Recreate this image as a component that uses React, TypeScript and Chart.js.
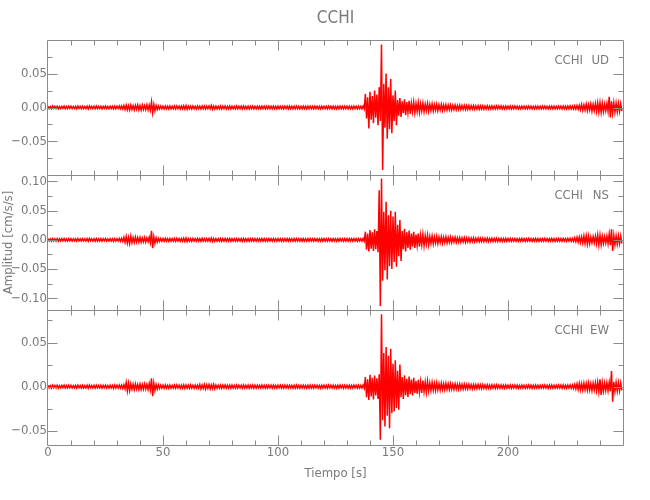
import React, { useEffect, useRef } from "react";
import { Chart, registerables } from "chart.js";

Chart.register(...registerables);

// ---------------- data ----------------
const station = "CCHI";
const componentNames = ["UD", "NS", "EW"];
const chartTitle = "CCHI";
const xAxisTitle = "Tiempo [s]";
const yAxisTitle = "Amplitud [cm/s/s]";

const timeRange = [0, 250];
const xTickValues = [0, 50, 100, 150, 200];
const xMinorStep = 10;

const udRange = [-0.0995, 0.0995];
const nsRange = [-0.12, 0.111];
const ewRange = [-0.066, 0.0868];
const udTickValues = [-0.05, 0, 0.05];
const nsTickValues = [-0.1, -0.05, 0, 0.05, 0.1];
const ewTickValues = [-0.05, 0, 0.05];
const yMinorStep = 0.025;

// envelope samples, one per second starting at t = 0 s (peak then trough)
const sampleStart = 0;
const sampleStep = 1;

const udHigh = [
  .0017,.0014,.0020,.0016,.0019,.0013,.0017,.0021,.0015,.0018,
  .0019,.0015,.0017,.0020,.0016,.0018,.0014,.0019,.0022,.0016,
  .0018,.0020,.0016,.0019,.0017,.0021,.0015,.0019,.0017,.0020,
  .0019,.0022,.0021,.0030,.0034,.0028,.0036,.0027,.0032,.0038,
  .0030,.0034,.0028,.0040,.0036,.0082,.0045,.0028,.0023,.0021,
  .0020,.0023,.0019,.0022,.0018,.0021,.0023,.0019,.0022,.0026,
  .0030,.0021,.0019,.0021,.0018,.0022,.0019,.0023,.0021,.0019,
  .0022,.0029,.0021,.0019,.0018,.0021,.0019,.0022,.0018,.0021,
  .0019,.0017,.0021,.0018,.0020,.0022,.0017,.0020,.0018,.0021,
  .0018,.0020,.0017,.0021,.0019,.0017,.0020,.0018,.0021,.0017,
  .0020,.0018,.0017,.0021,.0019,.0020,.0017,.0019,.0021,.0017,
  .0018,.0020,.0017,.0019,.0021,.0017,.0020,.0018,.0017,.0020,
  .0019,.0017,.0021,.0018,.0020,.0017,.0019,.0021,.0017,.0020,
  .0019,.0020,.0017,.0021,.0018,.0020,.0017,.0022,.0200,.0150,
  .0230,.0170,.0250,.0190,.0300,.0930,.0350,.0500,.0300,.0420,
  .0180,.0250,.0110,.0140,.0090,.0120,.0080,.0100,.0065,.0080,
  .0060,.0072,.0055,.0065,.0050,.0060,.0046,.0052,.0042,.0048,
  .0040,.0045,.0037,.0041,.0034,.0038,.0032,.0035,.0030,.0033,
  .0029,.0031,.0027,.0030,.0026,.0028,.0025,.0027,.0024,.0026,
  .0023,.0025,.0022,.0024,.0022,.0023,.0021,.0023,.0020,.0022,
  .0020,.0021,.0019,.0022,.0020,.0018,.0021,.0019,.0018,.0021,
  .0020,.0018,.0021,.0019,.0018,.0020,.0021,.0018,.0020,.0021,
  .0019,.0018,.0021,.0020,.0022,.0019,.0021,.0024,.0021,.0026,
  .0028,.0032,.0045,.0038,.0050,.0042,.0052,.0046,.0058,.0070,
  .0072,.0062,.0050,.0060,.0157,.0090,.0070,.0064,.0060,.0056,
];
const udLow = [
  -.0016,-.0019,-.0014,-.0017,-.0020,-.0015,-.0013,-.0018,-.0017,-.0014,
  -.0017,-.0015,-.0020,-.0014,-.0018,-.0016,-.0017,-.0021,-.0014,-.0017,
  -.0018,-.0016,-.0017,-.0020,-.0014,-.0017,-.0018,-.0016,-.0021,-.0017,
  -.0016,-.0020,-.0022,-.0028,-.0033,-.0037,-.0029,-.0034,-.0028,-.0035,
  -.0038,-.0030,-.0033,-.0036,-.0040,-.0078,-.0048,-.0030,-.0022,-.0020,
  -.0021,-.0019,-.0023,-.0020,-.0019,-.0022,-.0018,-.0023,-.0020,-.0024,
  -.0028,-.0020,-.0022,-.0019,-.0021,-.0018,-.0022,-.0019,-.0021,-.0018,
  -.0020,-.0027,-.0023,-.0020,-.0019,-.0022,-.0018,-.0021,-.0019,-.0022,
  -.0018,-.0021,-.0019,-.0017,-.0021,-.0018,-.0020,-.0022,-.0017,-.0019,
  -.0021,-.0017,-.0020,-.0018,-.0021,-.0019,-.0017,-.0020,-.0018,-.0021,
  -.0017,-.0019,-.0021,-.0018,-.0020,-.0017,-.0021,-.0019,-.0018,-.0021,
  -.0019,-.0017,-.0021,-.0019,-.0018,-.0021,-.0017,-.0019,-.0021,-.0018,
  -.0019,-.0021,-.0017,-.0019,-.0018,-.0021,-.0019,-.0017,-.0021,-.0018,
  -.0021,-.0018,-.0020,-.0017,-.0021,-.0018,-.0020,-.0021,-.0160,-.0310,
  -.0180,-.0230,-.0150,-.0260,-.0200,-.0920,-.0300,-.0460,-.0320,-.0380,
  -.0200,-.0260,-.0120,-.0140,-.0085,-.0115,-.0078,-.0095,-.0062,-.0078,
  -.0058,-.0070,-.0052,-.0062,-.0048,-.0057,-.0044,-.0050,-.0040,-.0046,
  -.0038,-.0043,-.0036,-.0039,-.0033,-.0036,-.0031,-.0034,-.0029,-.0032,
  -.0028,-.0030,-.0027,-.0029,-.0025,-.0027,-.0024,-.0026,-.0023,-.0025,
  -.0023,-.0024,-.0022,-.0023,-.0021,-.0022,-.0020,-.0022,-.0021,-.0020,
  -.0019,-.0021,-.0020,-.0018,-.0021,-.0019,-.0018,-.0021,-.0019,-.0018,
  -.0021,-.0019,-.0018,-.0021,-.0019,-.0018,-.0020,-.0021,-.0018,-.0019,
  -.0021,-.0019,-.0018,-.0021,-.0019,-.0022,-.0020,-.0021,-.0023,-.0025,
  -.0027,-.0033,-.0042,-.0037,-.0046,-.0040,-.0054,-.0045,-.0056,-.0068,
  -.0072,-.0060,-.0049,-.0057,-.0147,-.0085,-.0068,-.0062,-.0058,-.0054,
];

const nsHigh = [
  .0020,.0017,.0023,.0018,.0021,.0016,.0020,.0024,.0018,.0020,
  .0021,.0017,.0020,.0023,.0018,.0020,.0017,.0021,.0025,.0018,
  .0020,.0023,.0018,.0021,.0020,.0024,.0018,.0021,.0020,.0023,
  .0021,.0025,.0026,.0045,.0060,.0045,.0065,.0040,.0048,.0038,
  .0042,.0032,.0040,.0034,.0045,.0154,.0055,.0035,.0027,.0024,
  .0023,.0026,.0022,.0025,.0021,.0023,.0026,.0022,.0025,.0029,
  .0033,.0024,.0022,.0023,.0021,.0025,.0022,.0026,.0023,.0022,
  .0025,.0031,.0024,.0022,.0021,.0023,.0022,.0025,.0021,.0023,
  .0022,.0019,.0023,.0021,.0022,.0025,.0019,.0022,.0021,.0023,
  .0021,.0022,.0019,.0023,.0021,.0019,.0022,.0021,.0023,.0019,
  .0022,.0021,.0019,.0023,.0021,.0022,.0019,.0021,.0023,.0019,
  .0021,.0022,.0019,.0021,.0023,.0019,.0022,.0021,.0019,.0022,
  .0021,.0019,.0023,.0021,.0022,.0019,.0021,.0023,.0019,.0022,
  .0021,.0022,.0019,.0023,.0021,.0022,.0019,.0024,.0140,.0110,
  .0170,.0130,.0180,.0150,.0850,.1050,.0480,.0650,.0420,.0500,
  .0400,.0480,.0260,.0340,.0150,.0190,.0130,.0160,.0110,.0140,
  .0090,.0110,.0080,.0095,.0070,.0080,.0058,.0066,.0052,.0060,
  .0048,.0054,.0044,.0050,.0041,.0046,.0038,.0043,.0036,.0040,
  .0034,.0038,.0032,.0036,.0030,.0034,.0029,.0032,.0028,.0030,
  .0027,.0029,.0026,.0028,.0025,.0027,.0024,.0026,.0024,.0025,
  .0023,.0025,.0022,.0024,.0022,.0021,.0024,.0022,.0021,.0024,
  .0022,.0021,.0024,.0022,.0021,.0022,.0024,.0021,.0022,.0024,
  .0022,.0021,.0024,.0022,.0025,.0022,.0024,.0027,.0024,.0035,
  .0042,.0048,.0052,.0068,.0072,.0066,.0048,.0054,.0062,.0085,
  .0080,.0062,.0056,.0066,.0100,.0180,.0076,.0070,.0068,.0065,
];
const nsLow = [
  -.0019,-.0022,-.0017,-.0020,-.0023,-.0018,-.0016,-.0021,-.0020,-.0017,
  -.0020,-.0018,-.0023,-.0017,-.0021,-.0019,-.0020,-.0024,-.0017,-.0020,
  -.0021,-.0019,-.0020,-.0023,-.0017,-.0020,-.0021,-.0019,-.0024,-.0020,
  -.0019,-.0023,-.0025,-.0042,-.0055,-.0062,-.0048,-.0045,-.0038,-.0040,
  -.0040,-.0034,-.0038,-.0033,-.0046,-.0142,-.0058,-.0036,-.0026,-.0023,
  -.0024,-.0022,-.0025,-.0023,-.0022,-.0024,-.0021,-.0025,-.0023,-.0027,
  -.0031,-.0023,-.0024,-.0022,-.0023,-.0021,-.0024,-.0022,-.0023,-.0021,
  -.0023,-.0029,-.0025,-.0023,-.0022,-.0024,-.0021,-.0023,-.0022,-.0024,
  -.0021,-.0023,-.0022,-.0020,-.0023,-.0021,-.0022,-.0024,-.0020,-.0022,
  -.0023,-.0020,-.0022,-.0021,-.0023,-.0022,-.0020,-.0022,-.0021,-.0023,
  -.0020,-.0022,-.0023,-.0021,-.0022,-.0020,-.0023,-.0022,-.0021,-.0023,
  -.0022,-.0020,-.0023,-.0022,-.0021,-.0023,-.0020,-.0022,-.0023,-.0021,
  -.0022,-.0023,-.0020,-.0022,-.0021,-.0023,-.0022,-.0020,-.0023,-.0021,
  -.0023,-.0021,-.0022,-.0020,-.0023,-.0021,-.0022,-.0023,-.0170,-.0200,
  -.0150,-.0190,-.0160,-.0210,-.1130,-.0700,-.0520,-.0680,-.0450,-.0500,
  -.0380,-.0460,-.0280,-.0360,-.0160,-.0200,-.0140,-.0170,-.0115,-.0140,
  -.0095,-.0115,-.0085,-.0100,-.0072,-.0085,-.0060,-.0068,-.0054,-.0062,
  -.0050,-.0056,-.0046,-.0052,-.0043,-.0048,-.0040,-.0045,-.0038,-.0042,
  -.0036,-.0040,-.0034,-.0038,-.0032,-.0035,-.0030,-.0033,-.0029,-.0031,
  -.0028,-.0030,-.0027,-.0029,-.0026,-.0028,-.0025,-.0027,-.0025,-.0026,
  -.0024,-.0025,-.0023,-.0025,-.0024,-.0022,-.0021,-.0024,-.0022,-.0021,
  -.0024,-.0022,-.0021,-.0024,-.0022,-.0021,-.0022,-.0024,-.0021,-.0022,
  -.0024,-.0022,-.0021,-.0024,-.0022,-.0025,-.0022,-.0024,-.0026,-.0032,
  -.0040,-.0045,-.0056,-.0062,-.0072,-.0064,-.0050,-.0054,-.0066,-.0088,
  -.0082,-.0060,-.0054,-.0064,-.0090,-.0190,-.0078,-.0072,-.0066,-.0062,
];

const ewHigh = [
  .0015,.0012,.0017,.0014,.0016,.0011,.0015,.0018,.0013,.0015,
  .0016,.0012,.0015,.0017,.0013,.0015,.0012,.0016,.0019,.0013,
  .0015,.0017,.0013,.0016,.0015,.0018,.0013,.0016,.0015,.0017,
  .0016,.0019,.0018,.0022,.0048,.0040,.0032,.0028,.0031,.0026,
  .0030,.0025,.0032,.0027,.0035,.0094,.0040,.0025,.0020,.0018,
  .0017,.0019,.0016,.0018,.0015,.0017,.0019,.0016,.0018,.0020,
  .0018,.0017,.0019,.0016,.0018,.0017,.0024,.0019,.0026,.0021,
  .0025,.0020,.0026,.0018,.0016,.0018,.0017,.0019,.0016,.0018,
  .0017,.0015,.0018,.0016,.0017,.0019,.0015,.0017,.0016,.0018,
  .0016,.0017,.0015,.0018,.0016,.0015,.0017,.0016,.0018,.0015,
  .0017,.0016,.0015,.0018,.0016,.0017,.0015,.0016,.0018,.0015,
  .0016,.0017,.0015,.0016,.0018,.0015,.0017,.0016,.0015,.0017,
  .0016,.0015,.0018,.0016,.0017,.0015,.0016,.0018,.0015,.0017,
  .0016,.0017,.0015,.0018,.0016,.0017,.0015,.0018,.0110,.0085,
  .0135,.0100,.0125,.0095,.0140,.0820,.0380,.0450,.0350,.0430,
  .0260,.0300,.0180,.0250,.0110,.0130,.0090,.0115,.0080,.0100,
  .0065,.0078,.0058,.0070,.0052,.0062,.0042,.0048,.0038,.0044,
  .0035,.0040,.0033,.0037,.0031,.0034,.0029,.0032,.0027,.0030,
  .0026,.0028,.0024,.0027,.0023,.0025,.0022,.0024,.0021,.0023,
  .0020,.0022,.0019,.0021,.0019,.0020,.0018,.0020,.0017,.0019,
  .0017,.0018,.0016,.0018,.0017,.0015,.0018,.0016,.0015,.0018,
  .0017,.0015,.0018,.0016,.0015,.0017,.0018,.0015,.0017,.0018,
  .0016,.0015,.0018,.0017,.0019,.0016,.0018,.0020,.0018,.0025,
  .0032,.0038,.0034,.0040,.0037,.0042,.0035,.0040,.0044,.0052,
  .0083,.0046,.0040,.0044,.0050,.0177,.0056,.0048,.0046,.0042,
];
const ewLow = [
  -.0014,-.0016,-.0012,-.0015,-.0017,-.0013,-.0011,-.0016,-.0015,-.0012,
  -.0015,-.0013,-.0017,-.0012,-.0016,-.0014,-.0015,-.0018,-.0012,-.0015,
  -.0016,-.0014,-.0015,-.0017,-.0012,-.0015,-.0016,-.0014,-.0018,-.0015,
  -.0014,-.0017,-.0019,-.0024,-.0050,-.0044,-.0030,-.0033,-.0027,-.0031,
  -.0032,-.0028,-.0026,-.0033,-.0037,-.0108,-.0042,-.0027,-.0019,-.0017,
  -.0018,-.0016,-.0019,-.0017,-.0016,-.0018,-.0015,-.0019,-.0017,-.0020,
  -.0017,-.0018,-.0016,-.0019,-.0017,-.0018,-.0025,-.0020,-.0027,-.0019,
  -.0026,-.0021,-.0024,-.0017,-.0016,-.0018,-.0015,-.0017,-.0016,-.0018,
  -.0015,-.0017,-.0016,-.0014,-.0017,-.0015,-.0016,-.0018,-.0014,-.0016,
  -.0017,-.0014,-.0016,-.0015,-.0017,-.0016,-.0014,-.0016,-.0015,-.0017,
  -.0014,-.0016,-.0017,-.0015,-.0016,-.0014,-.0017,-.0016,-.0015,-.0017,
  -.0016,-.0014,-.0017,-.0016,-.0015,-.0017,-.0014,-.0016,-.0017,-.0015,
  -.0016,-.0017,-.0014,-.0016,-.0015,-.0017,-.0016,-.0014,-.0017,-.0015,
  -.0017,-.0015,-.0016,-.0014,-.0017,-.0015,-.0016,-.0017,-.0120,-.0150,
  -.0110,-.0145,-.0100,-.0140,-.0600,-.0380,-.0450,-.0330,-.0470,-.0300,
  -.0280,-.0240,-.0260,-.0120,-.0140,-.0095,-.0115,-.0085,-.0100,-.0070,
  -.0080,-.0060,-.0072,-.0055,-.0064,-.0048,-.0044,-.0040,-.0042,-.0036,
  -.0038,-.0033,-.0035,-.0031,-.0033,-.0029,-.0031,-.0027,-.0029,-.0026,
  -.0027,-.0024,-.0025,-.0022,-.0024,-.0021,-.0023,-.0020,-.0022,-.0019,
  -.0021,-.0019,-.0020,-.0018,-.0019,-.0017,-.0018,-.0017,-.0018,-.0016,
  -.0016,-.0018,-.0015,-.0016,-.0018,-.0015,-.0016,-.0018,-.0015,-.0016,
  -.0018,-.0016,-.0015,-.0018,-.0016,-.0015,-.0016,-.0018,-.0015,-.0016,
  -.0018,-.0016,-.0015,-.0018,-.0016,-.0019,-.0016,-.0018,-.0020,-.0026,
  -.0033,-.0037,-.0039,-.0035,-.0041,-.0038,-.0043,-.0039,-.0048,-.0058,
  -.0094,-.0050,-.0044,-.0047,-.0052,-.0170,-.0054,-.0048,-.0046,-.0042,
];

// ---------------- styling ----------------
const FONT_FAMILY =
  '"Liberation Sans Narrow", "DejaVu Sans Condensed", "Roboto Condensed", "Liberation Sans", sans-serif';
const AXIS_COLOR = "#8a8a8a";
const TEXT_COLOR = "#7a7a7a";
const TRACE_COLOR = "#ff0000";

function buildTrace(high: number[], low: number[]) {
  const pts: { x: number; y: number }[] = [];
  for (let i = 0; i < high.length; i++) {
    const t = sampleStart + i * sampleStep;
    pts.push({ x: t, y: high[i] });
    pts.push({ x: t + sampleStep / 2, y: low[i] });
  }
  return pts;
}

function fmtY(v: number) {
  const s = Math.abs(v).toFixed(2);
  return v < -1e-9 ? "\u2212" + s : s;
}

const panelIds = ["yUD", "yNS", "yEW"];

const framePlugin = {
  id: "idlFrame",
  afterDatasetsDraw(chart: any) {
    const { ctx, chartArea } = chart;
    const xs = chart.scales.x;
    const L = Math.round(chartArea.left) - 0.5;
    const R = Math.round(chartArea.right) + 0.5;
    ctx.save();
    ctx.strokeStyle = AXIS_COLOR;
    ctx.lineWidth = 1;
    panelIds.forEach((id, k) => {
      const ys = chart.scales[id];
      const T = Math.round(ys.top) + 0.5;
      const B = Math.round(ys.bottom) + 0.5;
      ctx.beginPath();
      ctx.rect(L, T, R - L, B - T);
      // y ticks (left and right, inward)
      const majors: number[] = ys._majorValues || [];
      for (let v = Math.ceil(ys.min / yMinorStep) * yMinorStep; v <= ys.max + 1e-9; v += yMinorStep) {
        const isMajor = majors.some((m) => Math.abs(m - v) < 1e-6);
        const len = isMajor ? 10 : 5;
        const y = Math.round(ys.getPixelForValue(v)) + 0.5;
        if (y <= T + 1.5 || y >= B - 1.5) continue;
        ctx.moveTo(L, y);
        ctx.lineTo(L + len, y);
        ctx.moveTo(R, y);
        ctx.lineTo(R - len, y);
      }
      // x ticks (top and bottom of each panel, inward)
      for (let v = timeRange[0]; v <= timeRange[1] + 1e-9; v += xMinorStep) {
        const isMajor = xTickValues.includes(v);
        const len = isMajor ? 10 : 5;
        const x = Math.round(xs.getPixelForValue(v)) + 0.5;
        if (x <= L + 1.5 || x >= R - 1.5) continue;
        ctx.moveTo(x, T);
        ctx.lineTo(x, T + len);
        ctx.moveTo(x, B);
        ctx.lineTo(x, B - len);
      }
      ctx.stroke();
      // panel labels
      ctx.fillStyle = TEXT_COLOR;
      ctx.font = `13px ${FONT_FAMILY}`;
      ctx.textBaseline = "middle";
      ctx.textAlign = "right";
      ctx.fillText(station, chartArea.right - 40, ys.top + 21);
      ctx.fillText(componentNames[k], chartArea.right - 14, ys.top + 21);
    });
    ctx.restore();
  },
};

function yScale(range: number[], ticks: number[], weight: number, withTitle: boolean) {
  return {
    type: "linear",
    position: "left",
    stack: "panels",
    stackWeight: 1,
    weight,
    min: range[0],
    max: range[1],
    grid: { display: false, drawTicks: false },
    border: { display: false },
    afterBuildTicks: (s: any) => {
      s._majorValues = ticks;
      s.ticks = ticks.map((value) => ({ value }));
    },
    afterFit: (s: any) => {
      s.width = 48;
    },
    ticks: {
      color: TEXT_COLOR,
      padding: 1,
      font: { family: FONT_FAMILY, size: 13 },
      callback: (v: any) => fmtY(Number(v)),
    },
    title: {
      display: withTitle,
      text: yAxisTitle,
      color: TEXT_COLOR,
      font: { family: FONT_FAMILY, size: 13 },
      padding: { top: 1, bottom: 0 },
    },
  };
}

export default function App() {
  const ref = useRef<HTMLCanvasElement | null>(null);
  useEffect(() => {
    if (!ref.current) return;
    const chart = new Chart(ref.current, {
      type: "line",
      data: {
        datasets: [
          { label: "UD", data: buildTrace(udHigh, udLow), yAxisID: "yUD" },
          { label: "NS", data: buildTrace(nsHigh, nsLow), yAxisID: "yNS" },
          { label: "EW", data: buildTrace(ewHigh, ewLow), yAxisID: "yEW" },
        ].map((d) => ({
          ...d,
          xAxisID: "x",
          borderColor: TRACE_COLOR,
          borderWidth: 1.5,
          pointRadius: 0,
          tension: 0,
          fill: false,
        })),
      } as any,
      options: {
        animation: false,
        responsive: false,
        devicePixelRatio: 1,
        events: [],
        layout: { padding: { left: 0, right: 27, top: 0, bottom: 0 } },
        plugins: {
          legend: { display: false },
          tooltip: { enabled: false },
          title: {
            display: true,
            text: chartTitle,
            fullSize: false,
            color: TEXT_COLOR,
            font: { family: FONT_FAMILY, size: 17, weight: "normal" },
            padding: { top: 8, bottom: 11.6 },
          },
        },
        scales: {
          x: {
            type: "linear",
            position: "bottom",
            min: timeRange[0],
            max: timeRange[1],
            grid: { display: false, drawTicks: false },
            border: { display: false },
            afterBuildTicks: (s: any) => {
              s.ticks = xTickValues.map((value) => ({ value }));
            },
            afterFit: (s: any) => {
              s.height = 55;
            },
            ticks: {
              color: TEXT_COLOR,
              padding: 0,
              maxRotation: 0,
              font: { family: FONT_FAMILY, size: 13 },
              callback: (v: any) => String(v),
            },
            title: {
              display: true,
              text: xAxisTitle,
              color: TEXT_COLOR,
              font: { family: FONT_FAMILY, size: 13 },
              padding: { top: 0, bottom: 19 },
            },
          },
          yUD: yScale(udRange, udTickValues, 3, false),
          yNS: yScale(nsRange, nsTickValues, 2, true),
          yEW: yScale(ewRange, ewTickValues, 1, false),
        } as any,
      },
      plugins: [framePlugin],
    });
    return () => chart.destroy();
  }, []);
  return (
    <div style={{ position: "fixed", left: 0, top: 0, width: 650, height: 500, background: "#fff" }}>
      <canvas ref={ref} width={650} height={500} style={{ display: "block" }} />
    </div>
  );
}
